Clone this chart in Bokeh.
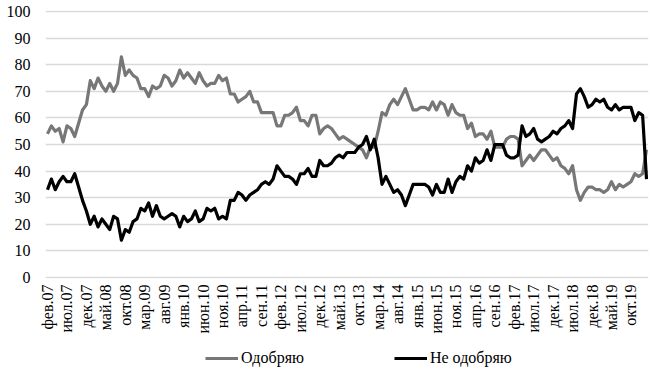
import math
from bokeh.plotting import figure
from bokeh.layouts import column
from bokeh.models import FixedTicker, Legend, LegendItem, Range1d
from bokeh.embed import file_html
from bokeh.resources import INLINE

# every 5th month label (categories are months, Feb 2007 .. ~Jan 2020)
tick_labels = ["фев.07", "июл.07", "дек.07", "май.08", "окт.08", "мар.09", "авг.09",
               "янв.10", "июн.10", "ноя.10", "апр.11", "сен.11", "фев.12", "июл.12",
               "дек.12", "май.13", "окт.13", "мар.14", "авг.14", "янв.15", "июн.15",
               "ноя.15", "апр.16", "сен.16", "фев.17", "июл.17", "дек.17", "июл.18",
               "дек.18", "май.19", "окт.19"]

approve = [54, 57, 55, 56, 51, 57, 56, 53, 58, 63,
           65, 74, 71, 75, 72, 70, 73, 70, 73, 83,
           76, 78, 76, 75, 71, 71, 68, 72, 71, 72,
           76, 75, 72, 74, 78, 75, 77, 75, 73, 77,
           74, 72, 73, 73, 76, 74, 75, 69, 69, 66,
           67, 68, 70, 66, 66, 62, 62, 62, 62, 57,
           57, 61, 61, 62, 64, 59, 59, 57, 61, 61,
           54, 56, 57, 56, 54, 52, 53, 52, 51, 50,
           49, 48, 45, 49, 49, 55, 62, 61, 65, 67,
           65, 68, 71, 67, 63, 63, 64, 64, 63, 66,
           63, 66, 65, 61, 65, 62, 61, 61, 56, 58,
           53, 54, 54, 52, 55, 49, 49, 49, 52, 53,
           53, 52, 42, 44, 46, 44, 46, 48, 48, 46,
           44, 45, 42, 41, 39, 42, 33, 29, 32, 34,
           34, 33, 33, 32, 33, 36, 33, 35, 34, 35,
           36, 39, 38, 39, 48]

disapprove = [33, 37, 33, 36, 38, 36, 36, 39, 34, 29,
              25, 20, 23, 19, 22, 20, 18, 23, 22, 14,
              18, 17, 21, 22, 26, 25, 28, 23, 27, 23,
              22, 23, 24, 23, 19, 23, 21, 22, 25, 21,
              22, 26, 25, 26, 22, 23, 22, 29, 29, 32,
              31, 29, 31, 32, 33, 35, 36, 35, 37, 42,
              40, 38, 38, 37, 35, 39, 39, 41, 38, 38,
              44, 42, 42, 43, 45, 46, 45, 47, 47, 47,
              49, 50, 53, 48, 52, 45, 35, 38, 35, 32,
              33, 31, 27, 31, 35, 35, 35, 35, 34, 31,
              35, 32, 32, 37, 32, 36, 38, 37, 42, 40,
              45, 43, 44, 48, 44, 50, 50, 50, 46, 45,
              45, 46, 57, 53, 54, 56, 52, 51, 52, 53,
              55, 54, 56, 57, 59, 56, 69, 71, 68, 64,
              65, 67, 66, 67, 64, 63, 65, 63, 64, 64,
              64, 59, 62, 61, 37]

series_names = ["Одобряю", "Не одобряю"]
series_colors = ["#777777", "#000000"]

n = len(approve)
x = list(range(n))

FONT = "Liberation Serif"

p = figure(width=649, height=338, output_backend="svg", toolbar_location=None,
           x_range=Range1d(-0.514, n - 1 + 0.514), y_range=Range1d(-0.4, 100.4),
           min_border_left=45, min_border_right=1, min_border_top=10, min_border_bottom=60)
p.outline_line_color = None
p.background_fill_color = "white"
p.border_fill_color = "white"

# grid
p.xgrid.grid_line_color = None
p.ygrid.grid_line_color = "#d9d9d9"
p.ygrid.grid_line_width = 1.3
p.yaxis.ticker = FixedTicker(ticks=list(range(0, 101, 10)))
p.xaxis.ticker = FixedTicker(ticks=list(range(0, 5 * len(tick_labels), 5)))
p.xaxis.major_label_overrides = {i * 5: lab for i, lab in enumerate(tick_labels)}

for ax in (p.xaxis[0], p.yaxis[0]):
    ax.axis_line_color = None
    ax.major_tick_line_color = None
    ax.minor_tick_line_color = None
    ax.major_tick_out = 0
    ax.major_tick_in = 0
    ax.minor_tick_out = 0
    ax.minor_tick_in = 0
    ax.major_label_text_font = FONT
    ax.major_label_text_font_size = "16px"
    ax.major_label_text_color = "#000000"

p.yaxis.major_label_standoff = 15
p.xaxis.major_label_standoff = 6
p.xaxis.major_label_orientation = math.pi / 2

p.line(x, approve, line_color=series_colors[0], line_width=3.2, line_join="round")
p.line(x, disapprove, line_color=series_colors[1], line_width=3.2, line_join="round")

# legend strip below the chart (its keys are drawn outside the strip's visible range)
lg = figure(width=649, height=33, output_backend="svg", toolbar_location=None,
            x_axis_type=None, y_axis_type=None, min_border=0,
            x_range=Range1d(0, 1), y_range=Range1d(0, 1))
lg.outline_line_color = None
lg.xgrid.visible = False
lg.ygrid.visible = False
k1 = lg.line([5, 6], [5, 6], line_color=series_colors[0], line_width=3.2)
k2 = lg.line([5, 6], [5, 6], line_color=series_colors[1], line_width=3.2)

legend = Legend(items=[LegendItem(label=series_names[0], renderers=[k1]),
                       LegendItem(label=series_names[1], renderers=[k2])],
                orientation="horizontal", location=(160, 3),
                border_line_color=None, background_fill_alpha=0,
                padding=0, margin=0, spacing=90, glyph_width=33, label_standoff=3,
                label_text_font=FONT, label_text_font_size="16px",
                label_text_color="#000000", glyph_height=20, label_height=20)
lg.add_layout(legend, "center")

layout = column(p, lg, spacing=0)

open("out.html", "w").write(file_html(layout, INLINE))
